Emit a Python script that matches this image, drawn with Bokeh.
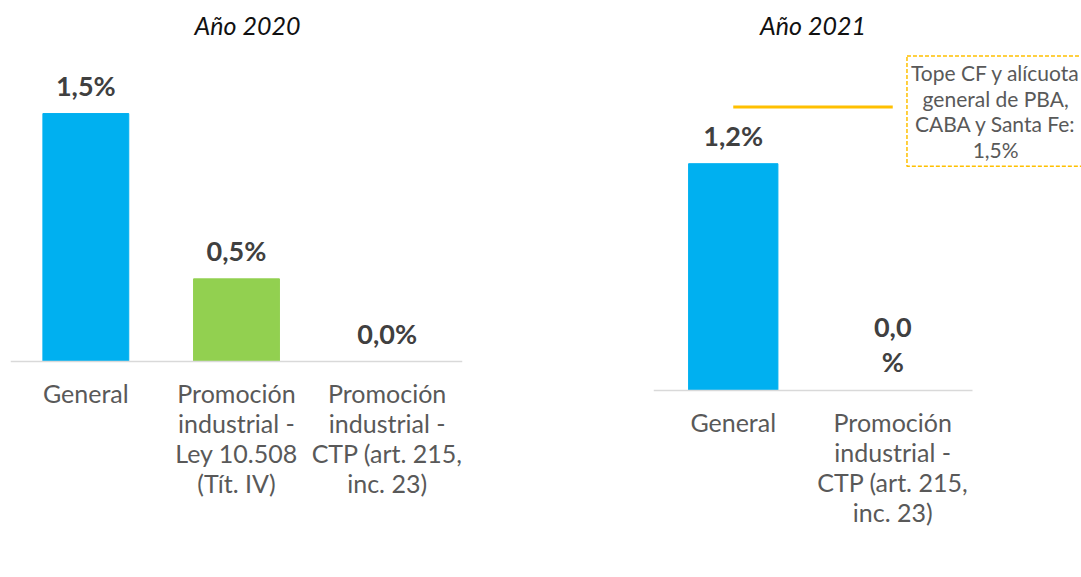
from bokeh.plotting import figure
from bokeh.models import Range1d, FactorRange, Label, ColumnDataSource, FixedTicker
from bokeh.layouts import row
from bokeh.core.properties import value
from bokeh.embed import file_html
from bokeh.resources import INLINE

# ---------------- data ----------------
title_2020 = "Año 2020"
cats_2020 = ["General",
             "Promoción\nindustrial -\nLey 10.508\n(Tít. IV)",
             "Promoción\nindustrial -\nCTP (art. 215,\ninc. 23)"]
vals_2020 = [1.5, 0.5, 0.0]
labels_2020 = ["1,5%", "0,5%", "0,0%"]
colors_2020 = ["#00B0F0", "#92D050", "#92D050"]

title_2021 = "Año 2021"
cats_2021 = ["General",
             "Promoción\nindustrial -\nCTP (art. 215,\ninc. 23)"]
vals_2021 = [1.2, 0.0]
labels_2021 = ["1,2%", "0,0\n%"]
colors_2021 = ["#00B0F0", "#00B0F0"]

cap_value = 1.5
cap_text = "Tope CF y alícuota\ngeneral de PBA,\nCABA y Santa Fe:\n1,5%"

# ---------------- style / layout ----------------
FONT = "Lato"
H = 577
BAR_LABEL_COLOR = "#404040"
AXIS_LABEL_COLOR = "#595959"


def style(p, ax):
    p.outline_line_color = None
    p.xgrid.visible = False
    p.ygrid.visible = False
    p.background_fill_color = "white"
    p.border_fill_color = "white"
    ax.fixed_location = 0
    ax.axis_line_color = "#D9D9D9"
    ax.axis_line_width = 1.5
    ax.major_tick_line_color = None
    ax.minor_tick_line_color = None
    ax.major_label_text_color = AXIS_LABEL_COLOR
    ax.major_label_text_font = FONT
    ax.major_label_text_font_size = "25px"
    ax.major_label_text_line_height = 1.0
    ax.major_label_standoff = 10


def add_marks(p, xs, vals, labels, colors, bar_w, title, title_x, title_dx, y_end):
    src = ColumnDataSource(dict(x=xs, top=vals, lab=labels, col=colors))
    p.vbar(x="x", top="top", width=bar_w, color="col", source=src)
    p.text(x="x", y="top", text="lab", source=src, text_align="center",
           text_baseline="bottom", y_offset=-12, text_font=value(FONT),
           text_font_style="bold", text_font_size="27px", text_color=BAR_LABEL_COLOR,
           text_line_height=1.08)
    p.text(x=[title_x], y=[y_end], text=[title], text_align="center",
           text_baseline="middle", x_offset=title_dx, y_offset=24, text_font=value(FONT),
           text_font_style="italic", text_font_size="25px", text_color="#111111")


# ---- panel 2020 (categorical axis) ----
base1, ppu1, fw1, bl1, w1 = 361, 165.3, 452, 10, 620
y1 = Range1d(-(H - base1) / ppu1, base1 / ppu1)
p1 = figure(x_range=FactorRange(*cats_2020, range_padding=0), y_range=y1,
            width=w1, height=H, output_backend="svg", toolbar_location=None,
            y_axis_location=None, min_border_left=bl1, min_border_right=w1 - bl1 - fw1,
            min_border_top=0, min_border_bottom=0)
style(p1, p1.xaxis[0])
add_marks(p1, cats_2020, vals_2020, labels_2020, colors_2020, 0.57,
          title_2020, len(cats_2020) / 2, 11, y1.end)

# ---- panel 2021 (numeric positions, category labels on ticks) ----
base2, ppu2, step2, bl2, w2 = 390, 189.0, 159.5, 33, 461
fw2 = w2 - bl2
pos_2021 = [i + 0.5 for i in range(len(cats_2021))]
y2 = Range1d(-(H - base2) / ppu2, base2 / ppu2)
p2 = figure(x_range=Range1d(0, fw2 / step2), y_range=y2,
            width=w2, height=H, output_backend="svg", toolbar_location=None,
            y_axis_location=None, min_border_left=bl2, min_border_right=0,
            min_border_top=0, min_border_bottom=0)
ax2 = p2.xaxis[0]
ax2.ticker = FixedTicker(ticks=pos_2021)
ax2.major_label_overrides = {t: c for t, c in zip(pos_2021, cats_2021)}
ax2.bounds = (0, len(cats_2021))
style(p2, ax2)
add_marks(p2, pos_2021, vals_2021, labels_2021, colors_2021, 0.56,
          title_2021, len(cats_2021) / 2, 0, y2.end)

p2.segment(x0=[pos_2021[0]], x1=[pos_2021[-1]], y0=[cap_value], y1=[cap_value],
           line_color="#FFC000", line_width=3)
p2.add_layout(Label(x=2.145, y=cap_value - 4 / ppu2, text=cap_text, text_align="center",
                    text_baseline="middle", text_font=FONT, text_font_size="21px",
                    text_color=AXIS_LABEL_COLOR, text_line_height=1.03,
                    border_line_color="#FFC000", border_line_dash="4 2",
                    border_line_width=1.5, background_fill_color="white",
                    padding=4))

layout = row(p1, p2)
open("out.html", "w").write(file_html(layout, INLINE))
